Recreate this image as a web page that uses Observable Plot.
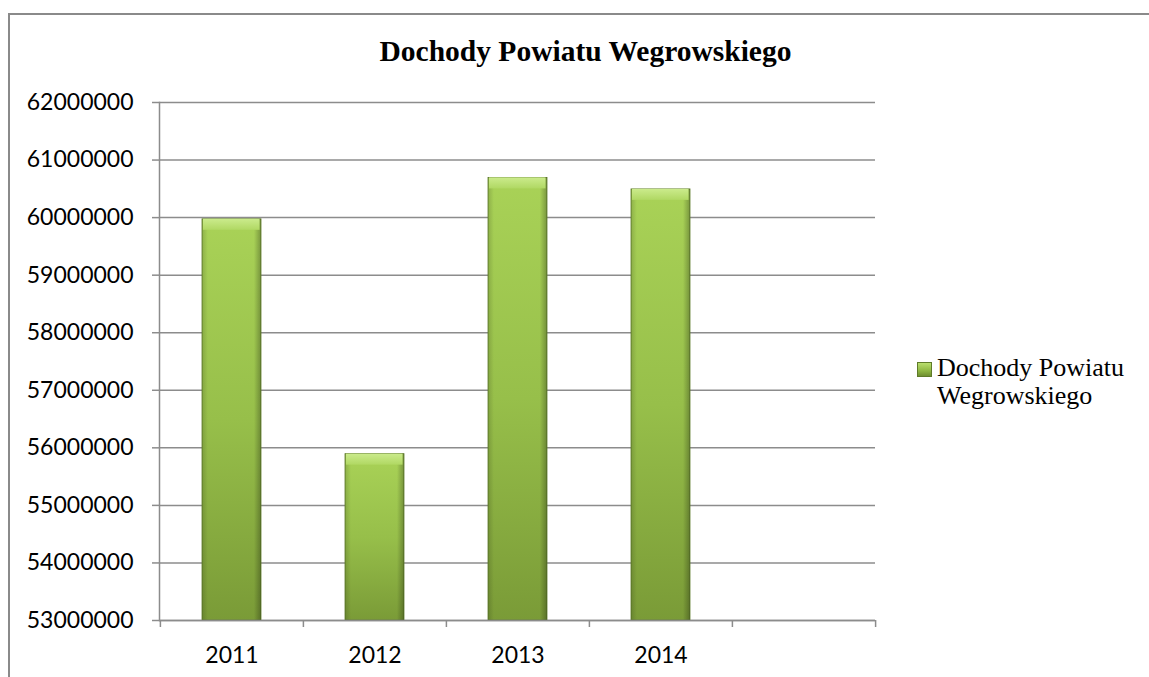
<!DOCTYPE html>
<html>
<head>
<meta charset="utf-8">
<script src="https://cdn.jsdelivr.net/npm/d3@7"></script>
<script src="https://cdn.jsdelivr.net/npm/@observablehq/plot@0.6"></script>
<style>
  html, body { margin: 0; padding: 0; background: #fff; }
  #wrap { position: relative; width: 1149px; height: 677px; overflow: hidden; background: #fff; }
  #frame { position: absolute; left: 8px; top: 13px; width: 1200px; height: 700px;
           border-left: 2px solid #8a8a8a; border-top: 2px solid #8a8a8a; }
  #title { position: absolute; left: 0; width: 1171px; top: 35px; text-align: center;
           font-family: "Liberation Serif", "Times New Roman", serif; font-weight: bold; font-size: 29.5px; color: #000; }
  #legend { position: absolute; left: 917px; top: 354px; font-family: "Liberation Serif", "Times New Roman", serif;
            font-size: 26px; line-height: 28px; color: #000; }
  #legend .sw { position: absolute; left: 0; top: 8px; width: 15px; height: 15px;
                background: linear-gradient(to bottom, #b9de6e, #8fb743 60%, #6f8f30); border: 1px solid #5f7b29; box-sizing: border-box; }
  #legend .tx { position: absolute; left: 20px; top: 0; white-space: nowrap; }
  #chart { position: absolute; left: 0; top: 0; }
</style>
</head>
<body>
<div id="wrap">
  <div id="frame"></div>
  <div id="chart"></div>
  <div id="title">Dochody Powiatu Wegrowskiego</div>
  <div id="legend"><div class="sw"></div><div class="tx">Dochody Powiatu<br>Wegrowskiego</div></div>
</div>
<script>
const years = ["2011", "2012", "2013", "2014"];
const values = [59970000, 55890000, 60690000, 60490000];
const xDomain = [...years, ""];
const yMin = 53000000, yMax = 62000000;
const yTicks = [53000000, 54000000, 55000000, 56000000, 57000000, 58000000, 59000000, 60000000, 61000000, 62000000];

const data = years.map((y, i) => ({year: y, value: values[i]}));

const W = 1149, H = 677;
const mL = 159, mR = 274, mT = 102, mB = 57;
const step = (W - mL - mR) / xDomain.length;

const defs = () => {
  const ns = "http://www.w3.org/2000/svg";
  const d = document.createElementNS(ns, "defs");
  d.innerHTML = `
    <linearGradient id="barGrad" x1="0" y1="0" x2="0" y2="1">
      <stop offset="0" stop-color="#a9d257"/>
      <stop offset="0.5" stop-color="#97bf4a"/>
      <stop offset="1" stop-color="#7a9b37"/>
    </linearGradient>
    <linearGradient id="sideGrad" x1="0" y1="0" x2="1" y2="0">
      <stop offset="0" stop-color="#000" stop-opacity="0.15"/>
      <stop offset="0.1" stop-color="#000" stop-opacity="0"/>
      <stop offset="0.88" stop-color="#000" stop-opacity="0"/>
      <stop offset="1" stop-color="#000" stop-opacity="0.28"/>
    </linearGradient>
    <linearGradient id="topGrad" x1="0" y1="0" x2="0" y2="1">
      <stop offset="0" stop-color="#cbeb8c"/>
      <stop offset="1" stop-color="#b0d863"/>
    </linearGradient>`;
  return d;
};

const chart = Plot.plot({
  width: W,
  height: H,
  marginLeft: mL,
  marginRight: mR,
  marginTop: mT,
  marginBottom: mB,
  style: {fontFamily: "Lato, 'Open Sans', sans-serif", fontSize: "23px", color: "#000", background: "transparent"},
  x: {domain: xDomain, paddingInner: 0.59, paddingOuter: 0.295, align: 0.5},
  y: {domain: [yMin, yMax]},
  marks: [
    defs,
    Plot.gridY(yTicks, {stroke: "#8c8c8c", strokeOpacity: 1, strokeWidth: 1.5}),
    Plot.barY(data, {x: "year", y1: yMin, y2: "value", fill: "url(#barGrad)", stroke: "#5e7a2a", strokeWidth: 0.8}),
    Plot.barY(data, {x: "year", y1: yMin, y2: "value", fill: "url(#sideGrad)"}),
    Plot.barY(data, {x: "year", y1: "value", y2: "value", insetBottom: -11, insetLeft: 1, insetRight: 1.5, fill: "url(#topGrad)"}),
    Plot.ruleY([yMin], {stroke: "#8c8c8c", strokeWidth: 1.5}),
    Plot.ruleX(xDomain, {x: d => d, dx: -step / 2, y1: yMin, y2: yMin, insetBottom: -7, stroke: "#8c8c8c", strokeWidth: 1.5}),
    Plot.ruleX([xDomain[xDomain.length - 1]], {x: d => d, dx: step / 2, y1: yMin, y2: yMin, insetBottom: -7, stroke: "#8c8c8c", strokeWidth: 1.5}),
    Plot.axisY(yTicks, {tickSize: 7, tickPadding: 19, tickFormat: d => String(d), stroke: "#8c8c8c", strokeWidth: 1.5, label: null}),
    Plot.axisX({tickSize: 0, tickPadding: 26, label: null, tickFormat: d => d}),
    Plot.frame({anchor: "left", stroke: "#8c8c8c", strokeWidth: 1.5})
  ]
});
document.getElementById("chart").appendChild(chart);
</script>
</body>
</html>
